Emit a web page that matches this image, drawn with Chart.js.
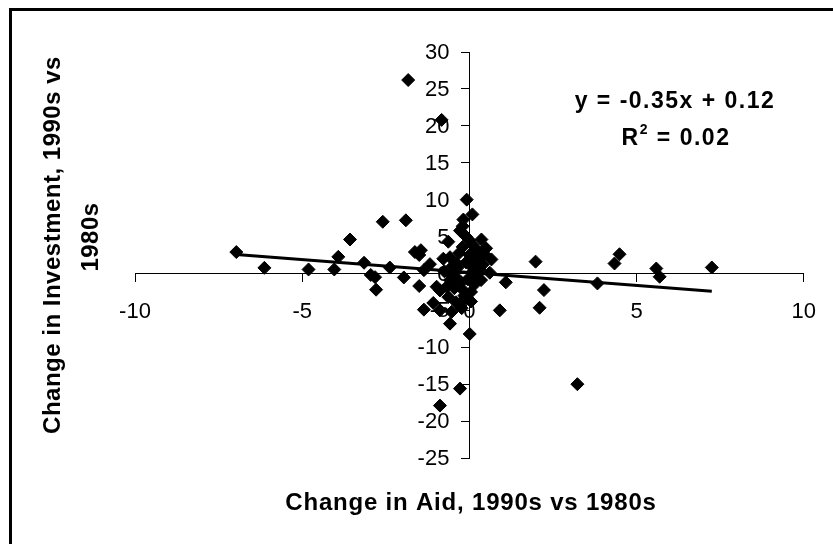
<!DOCTYPE html>
<html>
<head>
<meta charset="utf-8">
<script src="https://cdn.jsdelivr.net/npm/chart.js@4.4.1/dist/chart.umd.min.js"></script>
<style>
  html, body { margin: 0; padding: 0; background: #fff; }
  #wrap { width: 833px; height: 544px; position: relative; }
</style>
</head>
<body>
<div id="wrap"><canvas id="chart"></canvas></div>
<script>
// change in aid (x) vs change in investment (y), 1990s vs 1980s
const aidChange = [
  -6.97, -6.13, -4.81, -4.04, -3.92, -3.57, -3.15, -2.95, -2.82, -2.79,
  -2.59, -2.38, -1.96, -1.90, -1.83, -1.63, -1.45, -1.50, -1.50, -1.36,
  -1.18, -1.36, -0.98, -1.08, -0.88, -0.83, -0.63, -0.63, -0.58, -0.53,
   0.01, -0.23, -0.18, -0.08,  0.09, -0.18, -0.28, -0.20,  0.36,  0.66,
   0.61,  1.09,  0.91,  1.98,  2.23,  2.10,  3.83,  3.23,  4.34,  4.49,
   5.59,  5.69,  7.25, -0.28, -0.88,
  -0.78, -0.58, -0.38, -0.68, -0.58, -0.75, -0.50, -0.40, -0.30, -0.20,
  -0.10,  0.00,  0.10,  0.20,  0.25,  0.30,  0.10, -0.05,  0.15, -0.25,
  -0.45,  0.05, -0.15,  0.20,  0.45,  0.50,  0.35, -0.35, -0.55,  0.00,
  -0.10,  0.05,  0.40,  0.15, -0.20,  0.05, -0.40, -0.88,  0.30
];
const investChange = [
   2.90,  0.76,  0.54,  0.54,  2.25,  4.60,  1.45, -0.20, -0.50, -2.20,
   7.00,  0.80, -0.54,  7.20, 26.20,  2.90,  3.15,  2.50, -1.70,  0.45,
   1.26, -4.90, -1.80, -4.00, -5.00, 20.80,  4.30, -3.20, -6.80, -5.20,
  -8.20, -4.70, -3.60, 10.00,  8.00,  7.30,  5.80,  6.40,  4.60,  1.90,
   0.10, -1.20, -5.00,  1.60, -2.25, -4.65, -1.35, -15.00, 1.35,  2.60,
   0.67, -0.45,  0.81, -15.60, -17.90,
   2.00,  2.20,  1.35, -1.80, -0.90,  0.30,  1.00, -0.50,  2.80,  3.60,
   1.50,  2.50,  3.90,  3.20,  1.80,  0.60,  0.20, -0.80, -1.50, -1.20,
  -2.00, -2.50, -3.00, -0.30,  2.60,  3.40, -0.90,  0.80, -0.20,  4.50,
   5.00,  1.00,  1.20,  2.20, -2.20, -3.80, -3.90, -2.30,  2.90
];

// linear trend as printed on the chart
const trendSlope = -0.35;
const trendIntercept = 0.12;
const equationText = 'y = -0.35x + 0.12';
const rSquaredText = '0.02';

const xTickValues = [-10, -5, 0, 5, 10];
const yTickValues = [-25, -20, -15, -10, -5, 0, 5, 10, 15, 20, 25, 30];

const xTitle = 'Change in Aid, 1990s vs 1980s';
const yTitle = ['Change in Investment, 1990s vs', '1980s'];

const FONT = "'Liberation Sans', Arial, sans-serif";
const TICK_LEN = 8;

const points = aidChange.map((x, i) => ({ x: x, y: investChange[i] }));
const xMin = Math.min(...aidChange);
const xMax = Math.max(...aidChange);
const trendPoints = [xMin, xMax].map(x => ({ x: x, y: trendSlope * x + trendIntercept }));

// titles, y tick labels, equation and frame drawn by hand, excel-style
const decorations = {
  id: 'decorations',
  afterDraw(chart) {
    const ctx = chart.ctx;
    const xs = chart.scales.x;
    const ys = chart.scales.y;
    ctx.save();
    ctx.fillStyle = '#000';

    // frame (only top and left edges are inside the crop)
    ctx.fillRect(9, 8, 824, 3);
    ctx.fillRect(9, 8, 3, 536);

    // y tick labels, the axis sits at x = 0
    ctx.font = '22px ' + FONT;
    ctx.textAlign = 'right';
    ctx.textBaseline = 'middle';
    const axisX = xs.getPixelForValue(0);
    yTickValues.forEach(v => {
      ctx.fillText(String(v), axisX - TICK_LEN - 12, ys.getPixelForValue(v) + 1);
    });

    ctx.textAlign = 'center';
    ctx.textBaseline = 'alphabetic';

    // x title
    ctx.font = 'bold 24px ' + FONT;
    ctx.letterSpacing = '0.8px';
    ctx.fillText(xTitle, 471, 510);

    // y title, two lines rotated
    ctx.letterSpacing = '0.5px';
    ctx.save();
    ctx.translate(60, 245);
    ctx.rotate(-Math.PI / 2);
    ctx.fillText(yTitle[0], 0, 0);
    ctx.restore();
    ctx.save();
    ctx.translate(98, 237);
    ctx.rotate(-Math.PI / 2);
    ctx.fillText(yTitle[1], 0, 0);
    ctx.restore();

    // trend equation
    ctx.font = 'bold 23px ' + FONT;
    ctx.letterSpacing = '1.5px';
    ctx.fillText(equationText, 675, 108);

    // R squared with superscript
    ctx.textAlign = 'left';
    const big = 'bold 23px ' + FONT;
    const small = 'bold 14px ' + FONT;
    ctx.font = big;
    const wR = ctx.measureText('R').width;
    const rest = ' = ' + rSquaredText;
    const wRest = ctx.measureText(rest).width;
    ctx.font = small;
    const wSup = ctx.measureText('2').width;
    let x = 676 - (wR + wSup + wRest) / 2;
    ctx.font = big;
    ctx.fillText('R', x, 145);
    x += wR;
    ctx.font = small;
    ctx.fillText('2', x, 134);
    x += wSup;
    ctx.font = big;
    ctx.fillText(rest, x, 145);

    ctx.letterSpacing = '0px';
    ctx.restore();
  }
};

new Chart(document.getElementById('chart'), {
  type: 'scatter',
  data: {
    datasets: [
      {
        label: 'Linear trend',
        data: trendPoints,
        showLine: true,
        borderColor: '#000',
        borderWidth: 3,
        pointRadius: 0,
        fill: false
      },
      {
        label: 'Countries',
        data: points,
        pointStyle: 'rectRot',
        pointRadius: 6.5,
        pointBackgroundColor: '#000',
        pointBorderColor: '#000',
        pointBorderWidth: 1
      }
    ]
  },
  options: {
    responsive: true,
    maintainAspectRatio: false,
    animation: false,
    layout: { padding: { left: 135, right: 29, top: 52, bottom: 86 } },
    plugins: {
      legend: { display: false },
      tooltip: { enabled: false }
    },
    scales: {
      x: {
        type: 'linear',
        position: { y: 0 },
        min: -10,
        max: 10,
        afterBuildTicks: scale => { scale.ticks = xTickValues.map(v => ({ value: v })); },
        ticks: { color: '#000', font: { family: FONT, size: 22 }, padding: 17, maxRotation: 0 },
        grid: { drawOnChartArea: false, drawTicks: true, tickLength: TICK_LEN, color: '#000' },
        border: { color: '#000', width: 1 }
      },
      y: {
        type: 'linear',
        position: { x: 0 },
        min: -25,
        max: 30,
        afterBuildTicks: scale => { scale.ticks = yTickValues.map(v => ({ value: v })); },
        ticks: { display: false },
        grid: { drawOnChartArea: false, drawTicks: true, tickLength: TICK_LEN, color: '#000' },
        border: { color: '#000', width: 1 }
      }
    }
  },
  plugins: [decorations]
});
</script>
</body>
</html>
